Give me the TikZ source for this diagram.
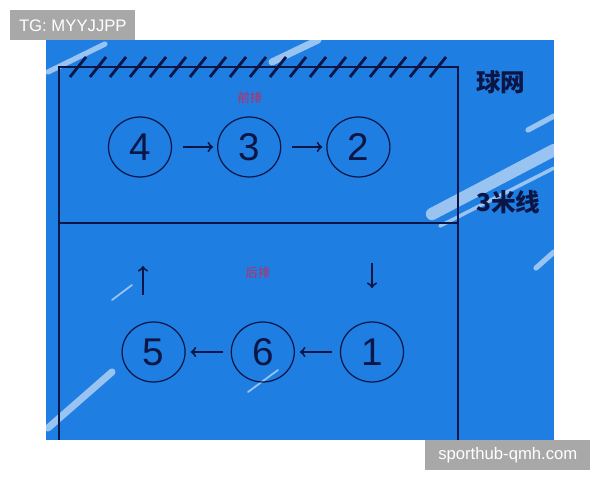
\documentclass[tikz,border=0pt]{standalone}
\usepackage{fontspec}
\setsansfont{Liberation Sans}
\newfontfamily\cjkfont{Noto Sans CJK SC}
\usetikzlibrary{shapes}
\usetikzlibrary{positioning}
\definecolor{courtblue}{RGB}{30,126,226}
\definecolor{inkblue}{RGB}{12,22,70}
\definecolor{rowred}{RGB}{200,40,90}
\definecolor{markgrey}{RGB}{168,168,168}
\tikzstyle{player} = [ellipse,draw=inkblue,line width=0.7pt,minimum width=1.26cm,minimum height=1.2cm,inner sep=0pt,font=\sffamily\fontsize{22}{24}\selectfont,text=inkblue]
\tikzstyle{rowlabel} = [text=rowred,font=\cjkfont\fontsize{7}{8}\selectfont]
\tikzstyle{linelabel} = [text=inkblue,font=\cjkfont\bfseries\fontsize{14}{16}\selectfont,anchor=west]
\tikzstyle{tagbox} = [fill=markgrey,text=white,font=\sffamily\fontsize{9.5}{11}\selectfont,anchor=north west,inner sep=0pt,minimum height=0.6cm]
\tikzstyle{streak} = [white,opacity=0.55,line cap=round]

\begin{document}
\begin{tikzpicture}
	[x=0.02cm,y=-0.02cm,node distance=0.9cm]
	\tikzstyle{arrow}=[->,line width=1.1pt,draw=inkblue];
	
	\useasboundingbox (0,0) rectangle (600,480);
	\fill[courtblue] (46,40) rectangle (554,440);
	% brush marks
	\draw[streak,line width=3pt] (48,72) -- (105,44);
	\draw[streak,line width=4pt] (272,62) -- (318,40);
	\draw[streak,line width=7pt] (432,214) -- (554,150);
	\draw[streak,line width=2pt] (440,226) -- (554,168);
	\draw[streak,line width=3pt] (528,130) -- (554,116);
	\draw[streak,line width=4pt] (48,428) -- (112,372);
	\draw[streak,line width=1pt] (112,300) -- (132,285);
	\draw[streak,line width=1pt] (248,392) -- (278,370);
	\draw[streak,line width=3pt] (536,268) -- (554,252);
	% court
	\draw[inkblue,line width=1.6pt] (59,440) |- (458,67) -- (458,440);
	\draw[inkblue,line width=1.6pt] (59,223) -- (458,223);
	\foreach \x in {78,98,...,438}
		\draw[inkblue,line width=1.6pt] (\x-8,77) -- (\x+8,57);
	
	\node (front) [rowlabel] at (250,98) {前排};
	\node (back) [rowlabel] at (258,273) {后排};
	\node (net) [linelabel] at (470,82) {球网};
	\node (three) [linelabel] at (470,202) {3米线};
	
	\node (4) [player] at (140,147) {4};
	\node (3) [player,right=of 4] {3};
	\node (2) [player,right=of 3] {2};
	\node (1) [player] at (372,352) {1};
	\node (6) [player,left=of 1] {6};
	\node (5) [player,left=of 6] {5};
	
	\coordinate (up1) at (143,295);
	\coordinate (up2) at (143,266);
	\coordinate (down1) at (372,263);
	\coordinate (down2) at (372,288);
	
	\path[arrow]
		(4) edge[shorten <=0.22cm,shorten >=0.08cm] (3)
		(3) edge[shorten <=0.22cm,shorten >=0.08cm] (2)
		(1) edge[shorten <=0.16cm,shorten >=0.1cm] (6)
		(6) edge[shorten <=0.16cm,shorten >=0.1cm] (5);
	\draw[arrow] (up1) -- (up2);
	\draw[arrow] (down1) -- (down2);
	
	\node (tg) [tagbox,minimum width=2.5cm] at (10,10) {TG: MYYJJPP};
	\node (site) [tagbox,minimum width=3.3cm] at (425,440) {sporthub-qmh.com};
\end{tikzpicture}
\end{document}
